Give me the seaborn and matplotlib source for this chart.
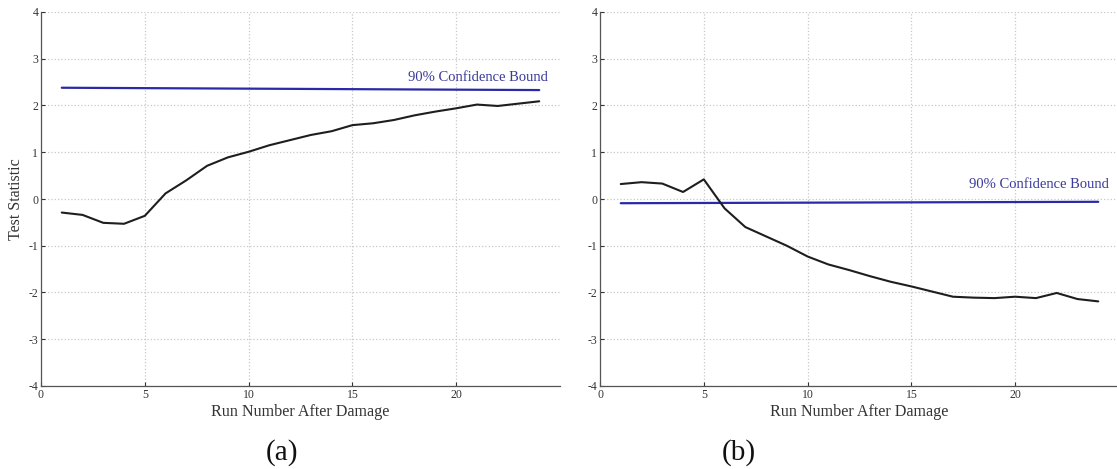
import matplotlib
matplotlib.use("Agg")
import matplotlib.pyplot as plt
import seaborn as sns
import pandas as pd

runs = list(range(1, 25))

stat_a = [-0.29, -0.34, -0.51, -0.53, -0.36, 0.12, 0.40, 0.71, 0.89, 1.01,
          1.15, 1.26, 1.37, 1.45, 1.58, 1.62, 1.69, 1.79, 1.87, 1.94,
          2.02, 1.99, 2.04, 2.09]
bound_a = [2.38, 2.33]

stat_b = [0.32, 0.36, 0.33, 0.15, 0.42, -0.20, -0.60, -0.80, -1.00, -1.23,
          -1.40, -1.52, -1.65, -1.77, -1.87, -1.98, -2.09, -2.11, -2.12, -2.09,
          -2.12, -2.01, -2.14, -2.19]
bound_b = [-0.09, -0.06]

bound_label = "90% Confidence Bound"
x_label = "Run Number After Damage"
y_label = "Test Statistic"
panel_labels = ["(a)", "(b)"]

sns.set_theme(style="white")
plt.rcParams["font.family"] = ["Liberation Serif", "DejaVu Serif"]
plt.rcParams["axes.unicode_minus"] = False

W, H = 1117, 469
fig = plt.figure(figsize=(W / 100, H / 100), dpi=100)
ax_a = fig.add_axes([41 / W, 1 - 386 / H, 519 / W, 374 / H])
ax_b = fig.add_axes([600 / W, 1 - 386 / H, 519 / W, 374 / H])

panels = [
    (ax_a, stat_a, bound_a, (24.4, 2.6), 282),
    (ax_b, stat_b, bound_b, (24.5, 0.32), 739),
]

for i, (ax, stat, bound, txt, lab_x) in enumerate(panels):
    df = pd.DataFrame({"run": runs, "stat": stat})
    bdf = pd.DataFrame({"run": [runs[0], runs[-1]], "bound": bound})
    sns.lineplot(data=bdf, x="run", y="bound", ax=ax, color="#2a2aa8", lw=1.6)
    sns.lineplot(data=df, x="run", y="stat", ax=ax, color="#1e1e1e", lw=1.5)
    ax.text(txt[0], txt[1], bound_label, color="#3a3a9a", fontsize=10.5,
            ha="right", va="center")
    ax.set_xlim(0, 25)
    ax.set_ylim(-4, 4)
    ax.set_xticks([0, 5, 10, 15, 20])
    ax.set_yticks(range(-4, 5))
    ax.grid(True, color="#c8c8c8", linestyle=":", linewidth=0.9)
    for s in ["top", "right"]:
        ax.spines[s].set_visible(False)
    for s in ["left", "bottom"]:
        ax.spines[s].set_color("#555555")
        ax.spines[s].set_linewidth(0.9)
    ax.tick_params(axis="both", direction="in", length=3, width=0.8,
                   colors="#333333", labelsize=8.5, pad=2,
                   left=True, bottom=True)
    ax.set_xlabel(x_label, fontsize=11.6, color="#333333", labelpad=2)
    ax.set_ylabel(y_label if i == 0 else "", fontsize=11.5, color="#333333", labelpad=3)
    fig.text(lab_x / W, 1 - 453 / H, panel_labels[i], fontsize=21,
             ha="center", va="center", color="#111111")

fig.savefig("out.png", dpi=100)
